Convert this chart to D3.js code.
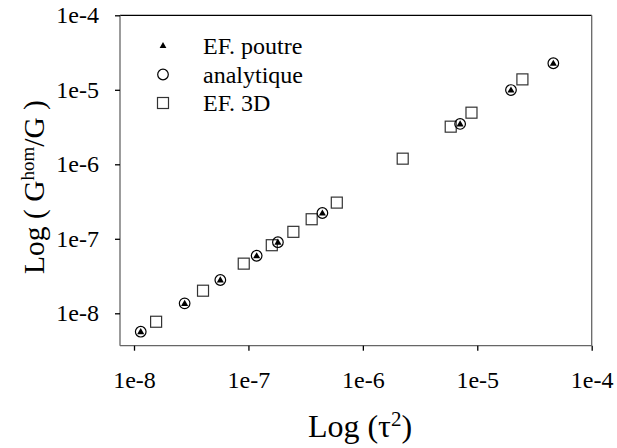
<!DOCTYPE html>
<html><head><meta charset="utf-8">
<script src="https://cdn.jsdelivr.net/npm/d3@7"></script>
<style>body{margin:0;background:#fff}svg{display:block}</style>
</head><body><svg id="c" width="617" height="448"></svg>
<script>
// Data (x = tau^2, y = Ghom/G)
const poutreX = [1.145e-8, 2.77e-8, 5.68e-8, 1.18e-7, 1.81e-7, 4.43e-7, 7.08e-6, 1.97e-5, 4.62e-5];
const poutreY = [5.66e-9, 1.36e-8, 2.8e-8, 5.92e-8, 9.0e-8, 2.22e-7, 3.48e-6, 9.93e-6, 2.27e-5];
const analytiqueX = [1.145e-8, 2.77e-8, 5.68e-8, 1.18e-7, 1.81e-7, 4.43e-7, 7.08e-6, 1.97e-5, 4.62e-5];
const analytiqueY = [5.66e-9, 1.36e-8, 2.8e-8, 5.92e-8, 9.0e-8, 2.22e-7, 3.48e-6, 9.93e-6, 2.27e-5];
const ef3dX = [1.56e-8, 4.01e-8, 9.1e-8, 1.6e-7, 2.47e-7, 3.57e-7, 5.92e-7, 2.23e-6, 5.86e-6, 8.9e-6, 2.48e-5];
const ef3dY = [7.7e-9, 2.01e-8, 4.64e-8, 8.2e-8, 1.24e-7, 1.83e-7, 3.06e-7, 1.19e-6, 3.2e-6, 4.93e-6, 1.38e-5];
const xTicks = [1e-8, 1e-7, 1e-6, 1e-5, 1e-4];
const yTicks = [1e-8, 1e-7, 1e-6, 1e-5, 1e-4];
const xTickLabels = ["1e-8", "1e-7", "1e-6", "1e-5", "1e-4"];
const yTickLabels = ["1e-8", "1e-7", "1e-6", "1e-5", "1e-4"];
const legendLabels = ["EF. poutre", "analytique", "EF. 3D"];

const FONT = "'Liberation Serif', 'Times New Roman', Times, serif";
const svg = d3.select("#c");
const L = 120, R = 591.7, T = 15.3, B = 345.7;
const x = d3.scaleLog().domain([Math.pow(10, -8.1224), 1e-4]).range([L, R]);
const y = d3.scaleLog().domain([Math.pow(10, -8.435), 1e-4]).range([B, T]);

// frame
svg.append("line").attr("x1", L).attr("x2", R).attr("y1", T).attr("y2", T).attr("stroke", "#000").attr("stroke-width", 1.3);
svg.append("line").attr("x1", L).attr("x2", L).attr("y1", T).attr("y2", B).attr("stroke", "#666").attr("stroke-width", 1.3);
svg.append("line").attr("x1", R).attr("x2", R).attr("y1", T).attr("y2", B).attr("stroke", "#666").attr("stroke-width", 1.3);
svg.append("line").attr("x1", L).attr("x2", R).attr("y1", B).attr("y2", B).attr("stroke", "#666").attr("stroke-width", 1.3);

const fs = 24;
const xa = svg.append("g").attr("transform", `translate(0,${B})`)
  .call(d3.axisBottom(x).tickValues(xTicks).tickSize(5).tickSizeOuter(0).tickPadding(20).tickFormat((d, i) => xTickLabels[i]));
xa.select(".domain").remove();
xa.attr("font-family", null).attr("font-size", null);
xa.selectAll("text").style("font-family", FONT).style("font-size", fs + "px").attr("fill", "#000");
xa.selectAll("line").attr("stroke", "#000").attr("stroke-width", 1.3);

const ya = svg.append("g").attr("transform", `translate(${L},0)`)
  .call(d3.axisLeft(y).tickValues(yTicks).tickSize(5).tickSizeOuter(0).tickPadding(16).tickFormat((d, i) => yTickLabels[i]));
ya.select(".domain").remove();
ya.attr("font-family", null).attr("font-size", null);
ya.selectAll("text").style("font-family", FONT).style("font-size", fs + "px").attr("fill", "#000");
ya.selectAll("line").attr("stroke", "#000").attr("stroke-width", 1.3);

// markers
const sq = 11, cr = 5.3, tri = d3.symbol().type(d3.symbolTriangle).size(22);
svg.append("g").selectAll("rect").data(ef3dX).join("rect")
  .attr("x", (d) => x(d) - sq / 2).attr("y", (d, i) => y(ef3dY[i]) - sq / 2)
  .attr("width", sq).attr("height", sq).attr("fill", "none").attr("stroke", "#333").attr("stroke-width", 1.2);
svg.append("g").selectAll("circle").data(analytiqueX).join("circle")
  .attr("cx", (d) => x(d)).attr("cy", (d, i) => y(analytiqueY[i])).attr("r", cr)
  .attr("fill", "none").attr("stroke", "#000").attr("stroke-width", 1.2);
svg.append("g").selectAll("path").data(poutreX).join("path")
  .attr("d", tri).attr("transform", (d, i) => `translate(${x(d)},${y(poutreY[i]) + 0.5})`).attr("fill", "#000");

// legend
const lg = svg.append("g");
const ly = [46, 74.5, 103];
lg.append("path").attr("d", d3.symbol().type(d3.symbolTriangle).size(20)).attr("transform", `translate(163,${ly[0]})`).attr("fill", "#000");
lg.append("circle").attr("cx", 163).attr("cy", ly[1]).attr("r", 5.3).attr("fill", "none").attr("stroke", "#000").attr("stroke-width", 1.2);
lg.append("rect").attr("x", 163 - 5.5).attr("y", ly[2] - 5.5).attr("width", 11).attr("height", 11).attr("fill", "none").attr("stroke", "#333").attr("stroke-width", 1.2);
legendLabels.forEach((t, i) => {
  lg.append("text").attr("x", 203).attr("y", ly[i]).attr("dy", "0.35em")
    .style("font-family", FONT).style("font-size", fs + "px").text(t);
});

// axis titles
const xt = svg.append("text").attr("x", 360).attr("y", 437).attr("text-anchor", "middle")
  .style("font-family", FONT).style("font-size", "32px");
xt.append("tspan").text("Log (τ");
xt.append("tspan").style("font-size", "21px").attr("dy", -11).text("2");
xt.append("tspan").attr("dy", 11).text(")");

const yt = svg.append("text").attr("transform", "translate(44,187) rotate(-90)").attr("text-anchor", "middle")
  .style("font-family", FONT).style("font-size", "29.5px");
yt.append("tspan").text("Log ( G");
yt.append("tspan").style("font-size", "19px").attr("dy", -10).text("hom");
yt.append("tspan").attr("dy", 10).text("/G )");
</script></body></html>
